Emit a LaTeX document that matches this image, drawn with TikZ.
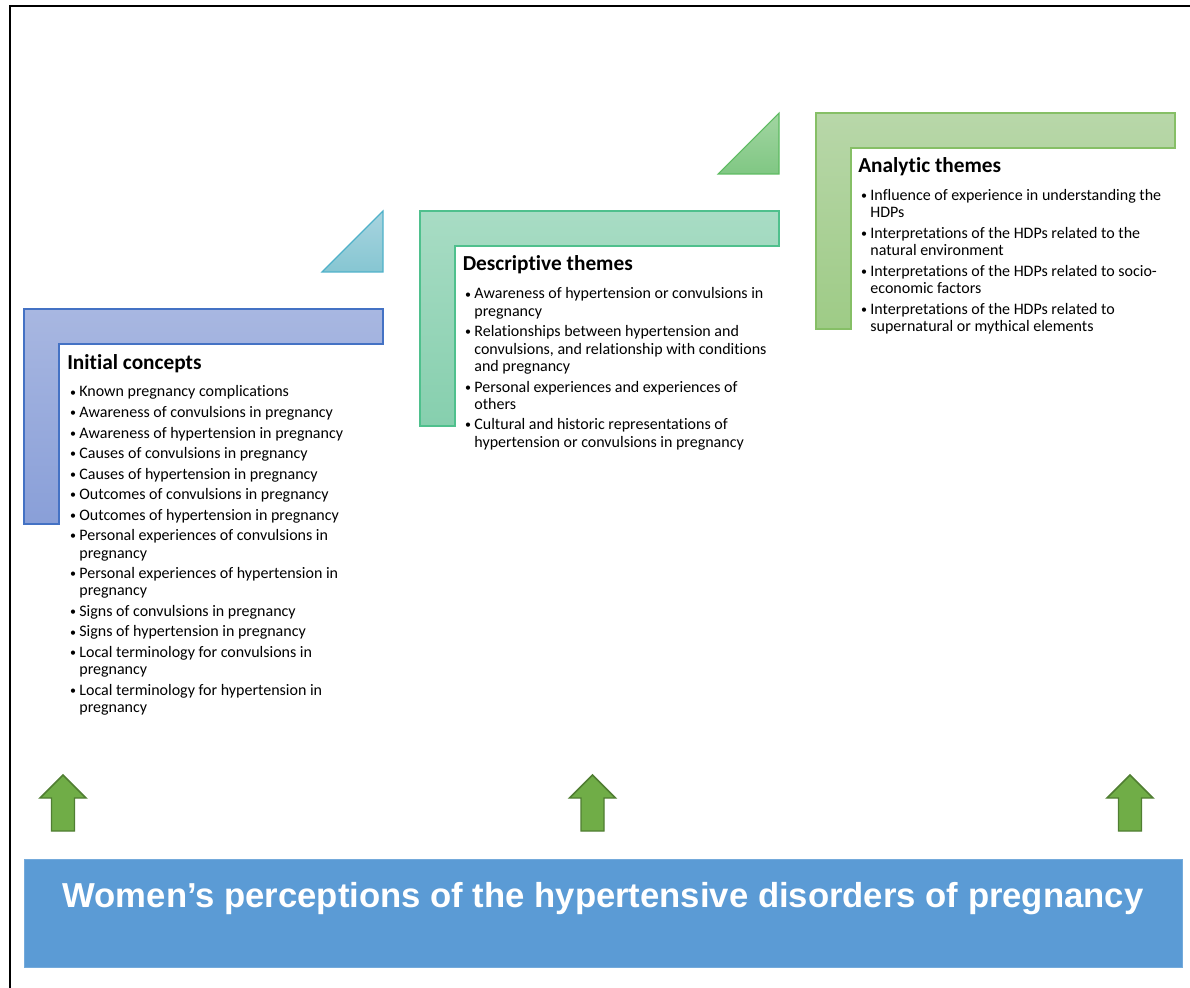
\documentclass[tikz,border=0pt]{standalone}
\usepackage{fontspec}
\setmainfont{Carlito}[Ligatures=NoCommon]
\newfontfamily\bannerfont{Liberation Sans}

\definecolor{initedge}{HTML}{4472C4}
\definecolor{inittop}{HTML}{A8B7E1}
\definecolor{initbot}{HTML}{899FD8}
\definecolor{descedge}{HTML}{4FC08D}
\definecolor{desctop}{HTML}{A8DCC4}
\definecolor{descbot}{HTML}{86CFAE}
\definecolor{anaedge}{HTML}{86BF66}
\definecolor{anatop}{HTML}{B8D7A9}
\definecolor{anabot}{HTML}{9ECB86}
\definecolor{tealedge}{HTML}{4FB1C9}
\definecolor{tealtop}{HTML}{A8D4DF}
\definecolor{tealbot}{HTML}{86C6D2}
\definecolor{greenedge}{HTML}{5DBB61}
\definecolor{greentop}{HTML}{A2D5A2}
\definecolor{greenbot}{HTML}{80C783}
\definecolor{arrowfill}{HTML}{70AD47}
\definecolor{arrowedge}{HTML}{507E32}
\definecolor{bannerfill}{HTML}{5B9BD5}

% small bullet mark
\newcommand\smallbullet{\makebox[7.6pt][l]{\hspace{0.6pt}\raisebox{0.06em}{\fontsize{9}{9}\selectfont\textbullet}}}
% one bullet item with a hanging indent
\newcommand\bul[1]{\par\noindent\hangindent=7.6pt\hangafter=1\smallbullet#1}
% a list block whose baseline is its first line
\newenvironment{blist}[1]{\begin{minipage}[t]{#1}\raggedright\setlength\parskip{2.4pt}\hbadness=10000}{\end{minipage}}

\begin{document}
\begin{tikzpicture}[x=0.75pt,y=-0.75pt,
  frameline/.style={line width=1.6pt,black},
  initshape/.style={draw=initedge,top color=inittop,bottom color=initbot,line width=0.8pt},
  descshape/.style={draw=descedge,top color=desctop,bottom color=descbot,line width=0.8pt},
  anashape/.style={draw=anaedge,top color=anatop,bottom color=anabot,line width=0.8pt},
  tealtri/.style={draw=tealedge,top color=tealtop,bottom color=tealbot,line width=0.8pt},
  greentri/.style={draw=greenedge,top color=greentop,bottom color=greenbot,line width=0.8pt},
  heading/.style={anchor=base west,inner sep=0pt,font=\bfseries\fontsize{16}{19}\selectfont},
  itemlist/.style={anchor=base west,inner sep=0pt,font=\fontsize{12}{13}\selectfont},
  arrowshape/.style={fill=arrowfill,draw=arrowedge,line width=1.1pt,line join=miter},
  uparrow/.pic={\path[arrowshape] (0,0) -- (23,23) -- (11.5,23) -- (11.5,56) -- (-11.5,56) -- (-11.5,23) -- (-23,23) -- cycle;}
]
\useasboundingbox (0,0) rectangle (1190,988);

% page frame
\draw[frameline] (10,988) -- (10,6) -- (1190,6);

% stepped L-shaped panels and their corner triangles
\path[initshape] (24,309) -- (383,309) -- (383,344) -- (59,344) -- (59,524) -- (24,524) -- cycle;
\path[descshape] (420,211) -- (779,211) -- (779,246) -- (455,246) -- (455,426) -- (420,426) -- cycle;
\path[anashape] (816,113) -- (1175,113) -- (1175,148) -- (851,148) -- (851,329) -- (816,329) -- cycle;
\path[tealtri] (322,272) -- (383,211) -- (383,272) -- cycle;
\path[greentri] (718,174) -- (779,113) -- (779,174) -- cycle;

% headings
\node[heading] (inithead) at (67,369) {Initial concepts};
\node[heading] (deschead) at (462.5,271) {Descriptive themes};
\node[heading] (anahead) at (858,172.5) {Analytic themes};

% lists
\node[itemlist] (initlist) at (69,397) {\begin{blist}{270pt}
\bul{Known pregnancy complications}
\bul{Awareness of convulsions in pregnancy}
\bul{Awareness of hypertension in pregnancy}
\bul{Causes of convulsions in pregnancy}
\bul{Causes of hypertension in pregnancy}
\bul{Outcomes of convulsions in pregnancy}
\bul{Outcomes of hypertension in pregnancy}
\bul{Personal experiences of convulsions in\newline pregnancy}
\bul{Personal experiences of hypertension in\newline pregnancy}
\bul{Signs of convulsions in pregnancy}
\bul{Signs of hypertension in pregnancy}
\bul{Local terminology for convulsions in\newline pregnancy}
\bul{Local terminology for hypertension in\newline pregnancy}
\end{blist}};

\node[itemlist] (desclist) at (464,299) {\begin{blist}{300pt}
\bul{Awareness of hypertension or convulsions in\newline pregnancy}
\bul{Relationships between hypertension and\newline convulsions, and relationship with conditions\newline and pregnancy}
\bul{Personal experiences and experiences of\newline others}
\bul{Cultural and historic representations of\newline hypertension or convulsions in pregnancy}
\end{blist}};

\node[itemlist] (analist) at (860,200.5) {\begin{blist}{300pt}
\bul{Influence of experience in understanding the\newline HDPs}
\bul{Interpretations of the HDPs related to the\newline natural environment}
\bul{Interpretations of the HDPs related to socio-\newline economic factors}
\bul{Interpretations of the HDPs related to\newline supernatural or mythical elements}
\end{blist}};

% upward arrows
\pic at (63,775) {uparrow};
\pic at (592.5,775) {uparrow};
\pic at (1130,775) {uparrow};

% banner
\path[fill=bannerfill,draw=bannerfill!85!white,line width=0.5pt] (24,859) rectangle (1182,967);
\node[anchor=base,inner sep=0pt,text=white,font=\bannerfont\bfseries\fontsize{26}{30}\selectfont] (banner) at (603,907)
  {Women’s perceptions of the hypertensive disorders of pregnancy};
\end{tikzpicture}
\end{document}
